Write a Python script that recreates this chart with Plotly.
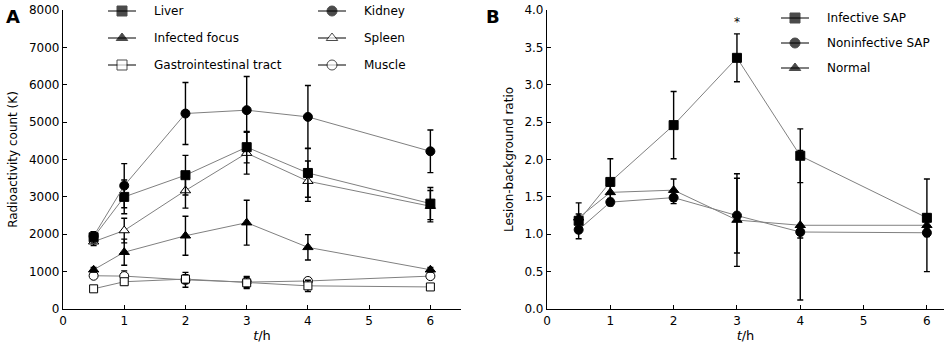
import plotly.graph_objects as go

# Panel A: radioactivity counts (K) by organ over time
t_a = [0.5, 1, 2, 3, 4, 6]
liver = [1920, 3000, 3580, 4330, 3640, 2820]
liver_err = [150, 450, 530, 420, 650, 430]
kidney = [1950, 3300, 5230, 5320, 5140, 4220]
kidney_err = [120, 590, 830, 900, 840, 570]
focus = [1050, 1520, 1960, 2310, 1650, 1050]
focus_err = [60, 350, 520, 600, 340, 60]
spleen = [1800, 2100, 3170, 4170, 3420, 2750]
spleen_err = [100, 330, 470, 560, 540, 420]
gi = [540, 730, 800, 700, 620, 590]
gi_err = [60, 80, 120, 150, 150, 60]
muscle = [890, 880, 780, 720, 750, 880]
muscle_err = [60, 140, 200, 150, 80, 60]

# Panel B: lesion-background ratio by group
t_b = [0.5, 1, 2, 3, 4, 6]
infective = [1.18, 1.70, 2.46, 3.36, 2.05, 1.22]
infective_err = [0.24, 0.31, 0.45, 0.32, 0.36, 0.05]
noninfective = [1.06, 1.43, 1.49, 1.25, 1.03, 1.02]
noninfective_err = [0.04, 0.05, 0.08, 0.50, 0.08, 0.05]
normal = [1.22, 1.56, 1.59, 1.19, 1.12, 1.12]
normal_err = [0.05, 0.10, 0.15, 0.62, 1.00, 0.62]

FONT = "DejaVu Sans"
LINE_C = "#808080"

fig = go.Figure()


def add_series(x, y, err, symbol, xa, ya, size=9, hollow=False):
    fig.add_trace(go.Scatter(
        x=x, y=y, xaxis=xa, yaxis=ya, mode="lines+markers",
        line=dict(color=LINE_C, width=1),
        marker=dict(symbol=symbol, size=size,
                    color="white" if hollow else "black",
                    line=dict(color="black", width=1)),
        error_y=dict(type="data", array=err, visible=True,
                     color="black", thickness=1.4, width=3),
        showlegend=False, hoverinfo="skip"))


# Panel A series
add_series(t_a, muscle, muscle_err, "circle", "x", "y", 9, True)
add_series(t_a, gi, gi_err, "square", "x", "y", 8, True)
add_series(t_a, focus, focus_err, "triangle-up", "x", "y", 9)
add_series(t_a, spleen, spleen_err, "triangle-up", "x", "y", 9, True)
add_series(t_a, liver, liver_err, "square", "x", "y", 9)
add_series(t_a, kidney, kidney_err, "circle", "x", "y", 9)

# Panel B series
add_series(t_b, noninfective, noninfective_err, "circle", "x2", "y2", 9)
add_series(t_b, normal, normal_err, "triangle-up", "x2", "y2", 9)
add_series(t_b, infective, infective_err, "square", "x2", "y2", 9)

# Legend samples drawn on a pixel-space overlay axis
legend_a = [
    ("Liver", "square", False, 122, 11),
    ("Infected focus", "triangle-up", False, 122, 38),
    ("Gastrointestinal tract", "square", True, 122, 65),
    ("Kidney", "circle", False, 332, 11),
    ("Spleen", "triangle-up", True, 332, 38),
    ("Muscle", "circle", True, 332, 65),
]
legend_b = [
    ("Infective SAP", "square", False, 795, 18),
    ("Noninfective SAP", "circle", False, 795, 43),
    ("Normal", "triangle-up", False, 795, 68),
]
annotations = []
for name, sym, hollow, cx, cy in legend_a + legend_b:
    fig.add_trace(go.Scatter(
        x=[cx - 14, cx, cx + 14], y=[cy, cy, cy], xaxis="x3", yaxis="y3",
        mode="lines+markers", line=dict(color="black", width=1),
        marker=dict(symbol=sym, size=[0, 10, 0],
                    color="white" if hollow else "black",
                    line=dict(color="black", width=1)),
        showlegend=False, hoverinfo="skip"))
    annotations.append(dict(
        x=cx + 30, y=cy, xref="x3", yref="y3", text=name, showarrow=False,
        xanchor="left", yanchor="middle",
        font=dict(family=FONT, size=12, color="black")))

# Panel letters and significance mark
annotations += [
    dict(x=4, y=16, xref="x3", yref="y3", text="<b>A</b>", showarrow=False,
         xanchor="left", yanchor="middle", font=dict(family=FONT, size=18, color="black")),
    dict(x=484, y=16, xref="x3", yref="y3", text="<b>B</b>", showarrow=False,
         xanchor="left", yanchor="middle", font=dict(family=FONT, size=18, color="black")),
    dict(x=3, y=3.84, xref="x2", yref="y2", text="*", showarrow=False,
         yanchor="middle", font=dict(family=FONT, size=12, color="black")),
]

axis_common = dict(
    showline=True, linecolor="black", linewidth=1.2, ticks="inside",
    ticklen=4, tickcolor="black", showgrid=False, zeroline=False,
    automargin=False,
    tickfont=dict(family=FONT, size=12, color="black"),
)
W, H = 949, 348
ydom = [(348 - 309) / H, (348 - 10) / H]
title_font = dict(family=FONT, size=12, color="black")

fig.update_layout(
    width=W, height=H, margin=dict(l=0, r=0, t=0, b=0),
    plot_bgcolor="rgba(0,0,0,0)", paper_bgcolor="white",
    annotations=annotations,
    xaxis=dict(domain=[63 / W, 461 / W], range=[0, 6.5], dtick=1,
               title=dict(text="<i>t</i>/h", font=dict(title_font, size=13), standoff=4),
               anchor="y", **axis_common),
    yaxis=dict(domain=ydom, range=[0, 8000], dtick=1000,
               title=dict(text="Radioactivity count (K)", font=title_font, standoff=8),
               anchor="x", **axis_common),
    xaxis2=dict(domain=[547 / W, 944 / W], range=[0, 6.27], dtick=1,
                title=dict(text="<i>t</i>/h", font=dict(title_font, size=13), standoff=4),
                anchor="y2", **axis_common),
    yaxis2=dict(domain=ydom, range=[0, 4], dtick=0.5, tickformat=".1f",
                title=dict(text="Lesion-background ratio", font=title_font, standoff=8),
                anchor="x2", **axis_common),
    xaxis3=dict(domain=[0, 1], range=[0, W], visible=False, fixedrange=True),
    yaxis3=dict(domain=[0, 1], range=[H, 0], visible=False, fixedrange=True, anchor="x3"),
)
fig.update_traces(cliponaxis=False)
fig.write_html("out.html")
